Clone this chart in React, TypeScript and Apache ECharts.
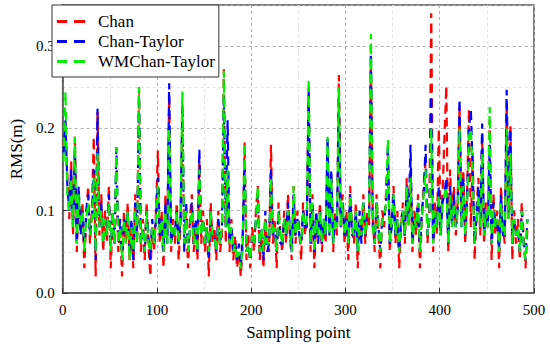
import React, { useEffect, useRef } from "react";
import * as echarts from "echarts";

const seriesNames = ["Chan", "Chan-Taylor", "WMChan-Taylor"];
const colors = ["#ff0000", "#0000ff", "#00ee00"];
const xTicks = [0, 100, 200, 300, 400, 500];
const yTicks = [0.0, 0.1, 0.2, 0.3];

// RMS values read at sampling points 1, 3, 5, ... 493
const chan = [
  0.18, 0.2, 0.14, 0.09, 0.16, 0.07, 0.19, 0.05, 0.12, 0.08,
  0.11, 0.03, 0.09, 0.13, 0.06, 0.1, 0.19, 0.02, 0.22, 0.07,
  0.12, 0.05, 0.1, 0.06, 0.13, 0.03, 0.09, 0.07, 0.15, 0.05,
  0.08, 0.02, 0.1, 0.06, 0.11, 0.04, 0.08, 0.03, 0.12, 0.06,
  0.25, 0.05, 0.09, 0.04, 0.11, 0.06, 0.02, 0.08, 0.05, 0.1,
  0.173, 0.06, 0.1, 0.03, 0.12, 0.07, 0.24, 0.05, 0.09, 0.06,
  0.11, 0.04, 0.08, 0.22, 0.06, 0.1, 0.03, 0.09, 0.12, 0.05,
  0.08, 0.04, 0.16, 0.06, 0.1, 0.05, 0.09, 0.02, 0.11, 0.06,
  0.08, 0.04, 0.1, 0.05, 0.07, 0.272, 0.06, 0.13, 0.05, 0.09,
  0.04, 0.07, 0.03, 0.05, 0.02, 0.06, 0.183, 0.04, 0.07, 0.03,
  0.08, 0.05, 0.1, 0.13, 0.04, 0.07, 0.03, 0.09, 0.06, 0.05,
  0.18, 0.06, 0.09, 0.03, 0.11, 0.07, 0.05, 0.1, 0.06, 0.12,
  0.07, 0.04, 0.13, 0.06, 0.1, 0.08, 0.04, 0.11, 0.07, 0.09,
  0.24, 0.05, 0.12, 0.03, 0.09, 0.07, 0.11, 0.05, 0.08, 0.06,
  0.17, 0.08, 0.14, 0.05, 0.1, 0.07, 0.265, 0.09, 0.12, 0.06,
  0.1, 0.04, 0.13, 0.08, 0.06, 0.11, 0.03, 0.09, 0.07, 0.12,
  0.06, 0.1, 0.08, 0.28, 0.09, 0.05, 0.12, 0.07, 0.03, 0.1,
  0.08, 0.12, 0.17, 0.05, 0.09, 0.13, 0.06, 0.1, 0.03, 0.08,
  0.11, 0.06, 0.14, 0.08, 0.16, 0.05, 0.1, 0.07, 0.12, 0.03,
  0.09, 0.13, 0.16, 0.06, 0.1, 0.34, 0.05, 0.11, 0.07, 0.2,
  0.08, 0.12, 0.19, 0.252, 0.05, 0.15, 0.09, 0.13, 0.07, 0.11,
  0.228, 0.09, 0.15, 0.06, 0.12, 0.224, 0.08, 0.17, 0.04, 0.1,
  0.14, 0.07, 0.19, 0.06, 0.11, 0.08, 0.21, 0.04, 0.12, 0.07,
  0.1, 0.03, 0.13, 0.08, 0.06, 0.23, 0.09, 0.205, 0.04, 0.1,
  0.06, 0.09, 0.04, 0.11, 0.07, 0.03, 0.08,
];

const chanTaylor = [
  0.17, 0.21, 0.13, 0.1, 0.15, 0.08, 0.17, 0.06, 0.13, 0.07,
  0.1, 0.05, 0.1, 0.12, 0.07, 0.09, 0.15, 0.04, 0.224, 0.08,
  0.11, 0.06, 0.09, 0.07, 0.12, 0.05, 0.1, 0.06, 0.177, 0.06,
  0.09, 0.04, 0.09, 0.07, 0.1, 0.05, 0.09, 0.04, 0.11, 0.07,
  0.24, 0.06, 0.08, 0.05, 0.1, 0.07, 0.04, 0.09, 0.06, 0.09,
  0.14, 0.07, 0.09, 0.05, 0.11, 0.06, 0.255, 0.06, 0.08, 0.07,
  0.1, 0.06, 0.09, 0.23, 0.05, 0.11, 0.05, 0.08, 0.11, 0.06,
  0.09, 0.05, 0.175, 0.07, 0.09, 0.06, 0.08, 0.04, 0.1, 0.07,
  0.07, 0.05, 0.09, 0.06, 0.08, 0.24, 0.08, 0.21, 0.06, 0.08,
  0.05, 0.06, 0.04, 0.06, 0.03, 0.07, 0.16, 0.05, 0.06, 0.04,
  0.07, 0.06, 0.09, 0.12, 0.05, 0.08, 0.04, 0.1, 0.05, 0.06,
  0.15, 0.07, 0.08, 0.05, 0.1, 0.06, 0.06, 0.09, 0.07, 0.11,
  0.08, 0.05, 0.12, 0.07, 0.09, 0.07, 0.06, 0.1, 0.08, 0.08,
  0.25, 0.06, 0.11, 0.05, 0.1, 0.06, 0.1, 0.06, 0.09, 0.07,
  0.19, 0.07, 0.15, 0.06, 0.09, 0.08, 0.24, 0.08, 0.11, 0.07,
  0.09, 0.06, 0.12, 0.07, 0.07, 0.1, 0.05, 0.1, 0.06, 0.11,
  0.07, 0.09, 0.09, 0.3, 0.08, 0.06, 0.11, 0.08, 0.05, 0.09,
  0.09, 0.11, 0.18, 0.06, 0.08, 0.12, 0.07, 0.09, 0.05, 0.09,
  0.1, 0.07, 0.13, 0.09, 0.18, 0.06, 0.09, 0.09, 0.11, 0.05,
  0.1, 0.12, 0.18, 0.07, 0.09, 0.24, 0.06, 0.1, 0.08, 0.13,
  0.07, 0.11, 0.12, 0.14, 0.06, 0.13, 0.08, 0.12, 0.08, 0.1,
  0.236, 0.08, 0.14, 0.07, 0.11, 0.2, 0.223, 0.15, 0.06, 0.09,
  0.13, 0.08, 0.206, 0.07, 0.1, 0.08, 0.18, 0.06, 0.11, 0.08,
  0.09, 0.05, 0.12, 0.07, 0.07, 0.247, 0.1, 0.2, 0.06, 0.09,
  0.07, 0.08, 0.05, 0.1, 0.06, 0.04, 0.09,
];

const wmChanTaylor = [
  0.16, 0.245, 0.12, 0.1, 0.14, 0.08, 0.19, 0.06, 0.12, 0.08,
  0.1, 0.05, 0.09, 0.11, 0.07, 0.09, 0.14, 0.05, 0.17, 0.08,
  0.1, 0.06, 0.09, 0.07, 0.11, 0.05, 0.1, 0.06, 0.177, 0.06,
  0.08, 0.04, 0.09, 0.06, 0.1, 0.04, 0.08, 0.05, 0.1, 0.06,
  0.25, 0.06, 0.08, 0.05, 0.1, 0.06, 0.05, 0.08, 0.06, 0.09,
  0.13, 0.07, 0.09, 0.05, 0.1, 0.06, 0.2, 0.06, 0.08, 0.07,
  0.1, 0.06, 0.09, 0.245, 0.06, 0.1, 0.05, 0.08, 0.1, 0.06,
  0.08, 0.05, 0.15, 0.07, 0.09, 0.06, 0.08, 0.05, 0.1, 0.07,
  0.07, 0.05, 0.08, 0.06, 0.08, 0.27, 0.08, 0.15, 0.06, 0.08,
  0.05, 0.06, 0.04, 0.05, 0.03, 0.06, 0.183, 0.05, 0.06, 0.04,
  0.07, 0.06, 0.09, 0.13, 0.05, 0.08, 0.05, 0.09, 0.06, 0.06,
  0.14, 0.07, 0.08, 0.05, 0.1, 0.07, 0.06, 0.09, 0.07, 0.1,
  0.08, 0.05, 0.13, 0.07, 0.09, 0.07, 0.06, 0.1, 0.08, 0.09,
  0.26, 0.06, 0.11, 0.05, 0.09, 0.07, 0.1, 0.06, 0.09, 0.07,
  0.19, 0.07, 0.14, 0.06, 0.09, 0.08, 0.25, 0.08, 0.11, 0.07,
  0.09, 0.06, 0.12, 0.08, 0.07, 0.1, 0.05, 0.09, 0.07, 0.11,
  0.07, 0.09, 0.09, 0.315, 0.08, 0.06, 0.11, 0.08, 0.05, 0.09,
  0.09, 0.11, 0.187, 0.06, 0.09, 0.12, 0.07, 0.09, 0.05, 0.08,
  0.1, 0.07, 0.13, 0.08, 0.14, 0.06, 0.09, 0.08, 0.11, 0.05,
  0.09, 0.12, 0.15, 0.07, 0.09, 0.2, 0.06, 0.1, 0.08, 0.12,
  0.07, 0.11, 0.12, 0.13, 0.06, 0.12, 0.08, 0.11, 0.08, 0.1,
  0.2, 0.08, 0.13, 0.07, 0.1, 0.19, 0.2, 0.14, 0.06, 0.09,
  0.12, 0.08, 0.17, 0.07, 0.1, 0.08, 0.226, 0.06, 0.1, 0.08,
  0.09, 0.05, 0.11, 0.07, 0.07, 0.2, 0.09, 0.17, 0.06, 0.09,
  0.07, 0.08, 0.05, 0.1, 0.06, 0.04, 0.09,
];

const samplingPoints = chan.map((_, i) => 1 + 2 * i);

const FONT = "Times New Roman";

export default function App() {
  const ref = useRef<HTMLDivElement>(null);
  useEffect(() => {
    if (!ref.current) return;
    document.body.style.margin = "0";
    const chart = echarts.init(ref.current, null, { renderer: "svg" });
    const all = [chan, chanTaylor, wmChanTaylor];
    chart.setOption({
      animation: false,
      grid: {
        left: 52,
        right: 16,
        top: 5,
        bottom: 57,
        show: true,
        borderColor: "#555",
        borderWidth: 1.5,
      },
      legend: {
        orient: "vertical",
        left: 52,
        top: 5,
        data: seriesNames,
        icon: "path://M0,0h10v3H0z M17,0h11v3H17z",
        backgroundColor: "#ffffff",
        borderColor: "#333",
        borderWidth: 1,
        borderRadius: 0,
        padding: [7, 4, 6, 5],
        itemGap: 1,
        itemWidth: 28,
        itemHeight: 3,
        textStyle: {
          fontFamily: FONT,
          fontSize: 17,
          lineHeight: 19,
          color: "#000",
          padding: [0, 0, 0, 8],
        },
      },
      xAxis: {
        type: "value",
        min: xTicks[0],
        max: xTicks[xTicks.length - 1],
        interval: 100,
        axisLine: { show: true, lineStyle: { color: "#555", width: 1.5 } },
        axisTick: { show: true, inside: true, length: 5, lineStyle: { color: "#333" } },
        axisLabel: { fontFamily: FONT, fontSize: 15, color: "#000", margin: 9 },
        splitLine: { show: true, lineStyle: { color: "#b0b0b0", type: [3, 3], width: 1 } },
        minorTick: { show: false, splitNumber: 2 },
        minorSplitLine: { show: true, lineStyle: { color: "#e2e2e2", type: [3, 3], width: 1 } },
        name: "Sampling point",
        nameLocation: "middle",
        nameGap: 31,
        nameTextStyle: { fontFamily: FONT, fontSize: 17, color: "#000" },
      },
      yAxis: {
        type: "value",
        min: 0,
        max: 0.35,
        interval: 0.1,
        axisLine: { show: true, lineStyle: { color: "#555", width: 1.5 } },
        axisTick: { show: true, inside: true, length: 5, lineStyle: { color: "#333" } },
        axisLabel: {
          fontFamily: FONT,
          fontSize: 15,
          color: "#000",
          margin: 8,
          showMaxLabel: false,
          formatter: (v: number) => (yTicks.some((t) => Math.abs(t - v) < 1e-9) ? v.toFixed(1) : ""),
        },
        splitLine: { show: true, lineStyle: { color: "#b0b0b0", type: [3, 3], width: 1 } },
        minorTick: { show: false, splitNumber: 2 },
        minorSplitLine: { show: true, lineStyle: { color: "#e2e2e2", type: [3, 3], width: 1 } },
        name: "RMS(m)",
        nameLocation: "middle",
        nameGap: 26,
        nameTextStyle: { fontFamily: FONT, fontSize: 17, color: "#000" },
      },
      series: seriesNames.map((name, k) => ({
        name,
        type: "line",
        showSymbol: false,
        symbol: "none",
        data: samplingPoints.map((x, i) => [x, all[k][i]]),
        lineStyle: { color: colors[k], width: 2.2, type: [9, 6] },
        itemStyle: { color: colors[k] },
      })),
    });
    return () => chart.dispose();
  }, []);
  return <div ref={ref} style={{ width: 550, height: 350 }} />;
}
